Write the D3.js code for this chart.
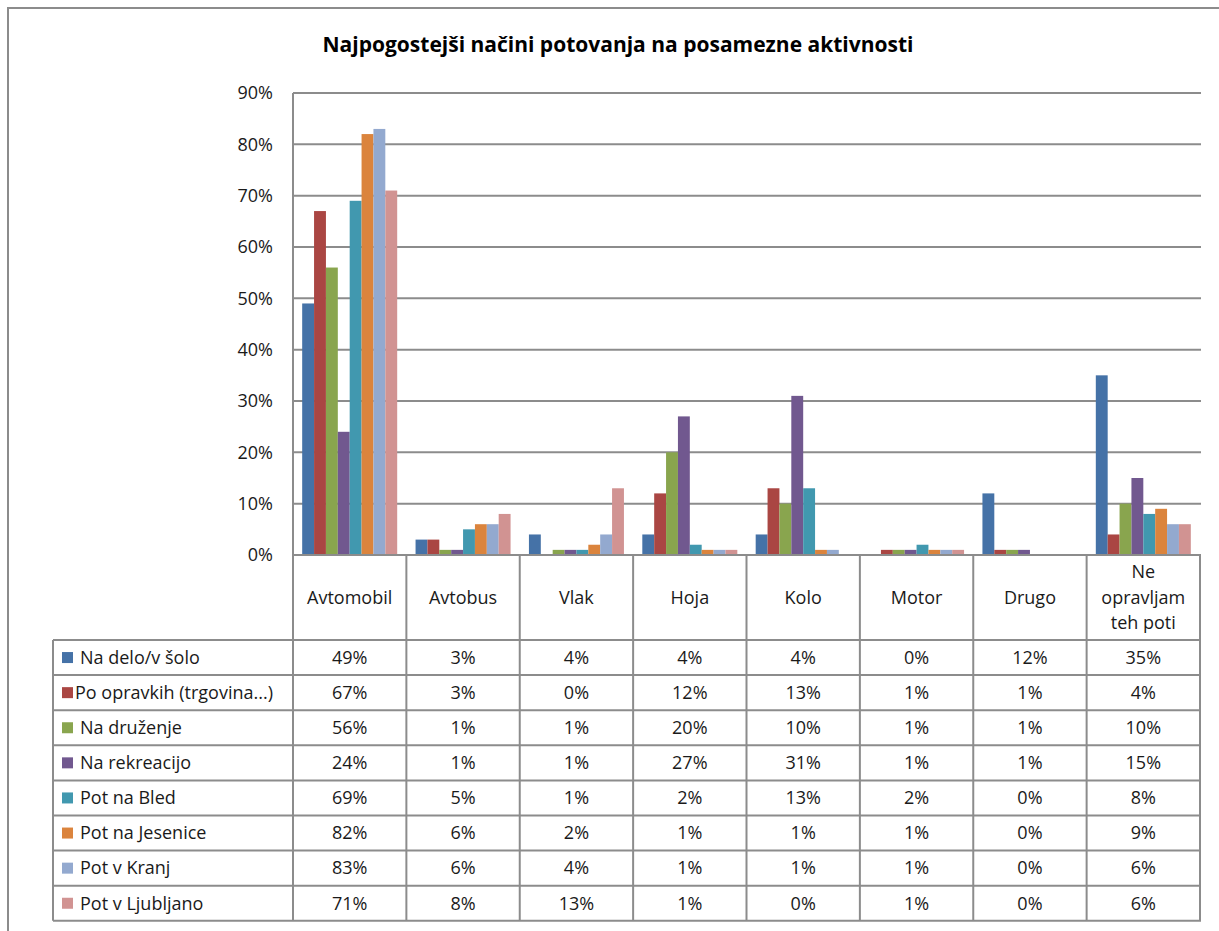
<!DOCTYPE html>
<html>
<head>
<meta charset="utf-8">
<script src="https://cdn.jsdelivr.net/npm/d3@7"></script>
<style>
  html, body { margin: 0; padding: 0; background: #fff; }
  svg { display: block; font-family: "Open Sans", "Noto Sans", sans-serif; }
</style>
</head>
<body>
<svg id="chart" width="1219" height="931"></svg>
<script>
// Najpogostejši načini potovanja – column chart with data table underneath.

const categories = ["Avtomobil", "Avtobus", "Vlak", "Hoja", "Kolo", "Motor", "Drugo", "Ne opravljam teh poti"];
const categoryLines = [["Avtomobil"], ["Avtobus"], ["Vlak"], ["Hoja"], ["Kolo"], ["Motor"], ["Drugo"], ["Ne", "opravljam", "teh poti"]];

const seriesNames = [
  "Na delo/v šolo",
  "Po opravkih (trgovina...)",
  "Na druženje",
  "Na rekreacijo",
  "Pot na Bled",
  "Pot na Jesenice",
  "Pot v Kranj",
  "Pot v Ljubljano",
];

const naDelo       = [49, 3, 4, 4, 4, 0, 12, 35];
const poOpravkih   = [67, 3, 0, 12, 13, 1, 1, 4];
const naDruzenje   = [56, 1, 1, 20, 10, 1, 1, 10];
const naRekreacijo = [24, 1, 1, 27, 31, 1, 1, 15];
const potBled      = [69, 5, 1, 2, 13, 2, 0, 8];
const potJesenice  = [82, 6, 2, 1, 1, 1, 0, 9];
const potKranj     = [83, 6, 4, 1, 1, 1, 0, 6];
const potLjubljana = [71, 8, 13, 1, 0, 1, 0, 6];

const yTicks = [0, 10, 20, 30, 40, 50, 60, 70, 80, 90];

const colors = ["#4572A7", "#AA4643", "#89A54E", "#71588F", "#4198AF", "#DB843D", "#93A9CF", "#D19392"];

const series = [naDelo, poOpravkih, naDruzenje, naRekreacijo, potBled, potJesenice, potKranj, potLjubljana]
  .map((values, i) => ({ name: seriesNames[i], color: colors[i], values }));

// Layout
const plot = { left: 293, right: 1200, top: 93, bottom: 555 };
const table = { left: 53, headerBottom: 640, rowH: 35.1 };
const GRID = "#8c8c8c";
const TEXT = "#1a1a1a";
const FS = "18px";

const svg = d3.select("#chart");

// Outer chart frame (right/bottom edges are cut off in the picture)
svg.append("path")
  .attr("d", "M8,935 V8 H1225")
  .attr("fill", "none")
  .attr("stroke", GRID)
  .attr("stroke-width", 2);

svg.append("text")
  .attr("x", 618).attr("y", 52)
  .attr("text-anchor", "middle")
  .attr("font-size", "21px")
  .attr("font-weight", "700")
  .attr("fill", "#000")
  .text("Najpogostejši načini potovanja na posamezne aktivnosti");

const y = d3.scaleLinear().domain([0, 90]).range([plot.bottom, plot.top]);
const x0 = d3.scaleBand().domain(categories).range([plot.left, plot.right]);
const bw = x0.bandwidth();
const x1 = d3.scaleBand().domain(seriesNames).range([bw * 0.081, bw * 0.919]);

// Gridlines
svg.append("g")
  .selectAll("line")
  .data(yTicks.filter(t => t > 0))
  .join("line")
  .attr("x1", plot.left).attr("x2", plot.right + 1)
  .attr("y1", d => y(d)).attr("y2", d => y(d))
  .attr("stroke", GRID).attr("stroke-width", 2);

// Y tick labels
svg.append("g")
  .selectAll("text")
  .data(yTicks)
  .join("text")
  .attr("x", 273).attr("y", d => y(d))
  .attr("dy", "0.35em")
  .attr("text-anchor", "end")
  .attr("font-size", FS)
  .attr("fill", TEXT)
  .text(d => d + "%");

// Bars
const groups = svg.append("g")
  .selectAll("g")
  .data(categories)
  .join("g")
  .attr("transform", d => `translate(${x0(d)},0)`);

groups.selectAll("rect")
  .data((c, ci) => series.map(s => ({ s, v: s.values[ci] })))
  .join("rect")
  .attr("x", d => x1(d.s.name))
  .attr("width", x1.bandwidth())
  .attr("y", d => y(d.v))
  .attr("height", d => y(0) - y(d.v))
  .attr("fill", d => d.s.color);

// Table lines
const tableBottom = table.headerBottom + table.rowH * series.length;
const lines = svg.append("g").attr("stroke", GRID).attr("stroke-width", 2);

lines.append("line")
  .attr("x1", plot.left).attr("x2", plot.right + 1)
  .attr("y1", plot.bottom).attr("y2", plot.bottom);

d3.range(series.length + 1).forEach(i => {
  const yy = table.headerBottom + i * table.rowH;
  lines.append("line")
    .attr("x1", table.left).attr("x2", plot.right + 1)
    .attr("y1", yy).attr("y2", yy);
});

lines.append("line")
  .attr("x1", table.left).attr("x2", table.left)
  .attr("y1", table.headerBottom).attr("y2", tableBottom);

lines.append("line")
  .attr("x1", plot.left).attr("x2", plot.left)
  .attr("y1", plot.top).attr("y2", tableBottom);

categories.forEach(c => {
  const xx = x0(c) + bw;
  lines.append("line")
    .attr("x1", xx).attr("x2", xx)
    .attr("y1", plot.bottom).attr("y2", tableBottom);
});

// Category headers
categories.forEach((c, ci) => {
  const ls = categoryLines[ci];
  const cy = (plot.bottom + table.headerBottom) / 2;
  ls.forEach((l, li) => {
    svg.append("text")
      .attr("x", x0(c) + bw / 2)
      .attr("y", cy + (li - (ls.length - 1) / 2) * 25.5)
      .attr("dy", "0.35em")
      .attr("text-anchor", "middle")
      .attr("font-size", FS)
      .attr("fill", TEXT)
      .text(l);
  });
});

// Rows: legend key + values
series.forEach((s, si) => {
  const cy = table.headerBottom + (si + 0.5) * table.rowH;
  svg.append("rect")
    .attr("x", 62).attr("y", cy - 5.5)
    .attr("width", 11).attr("height", 11)
    .attr("fill", s.color);
  svg.append("text")
    .attr("x", si === 1 ? 75 : 80).attr("y", cy)
    .attr("dy", "0.35em")
    .attr("font-size", FS)
    .attr("fill", TEXT)
    .text(s.name);
  s.values.forEach((v, ci) => {
    svg.append("text")
      .attr("x", x0(categories[ci]) + bw / 2).attr("y", cy)
      .attr("dy", "0.35em")
      .attr("text-anchor", "middle")
      .attr("font-size", FS)
      .attr("fill", TEXT)
      .text(v + "%");
  });
});
</script>
</body>
</html>
